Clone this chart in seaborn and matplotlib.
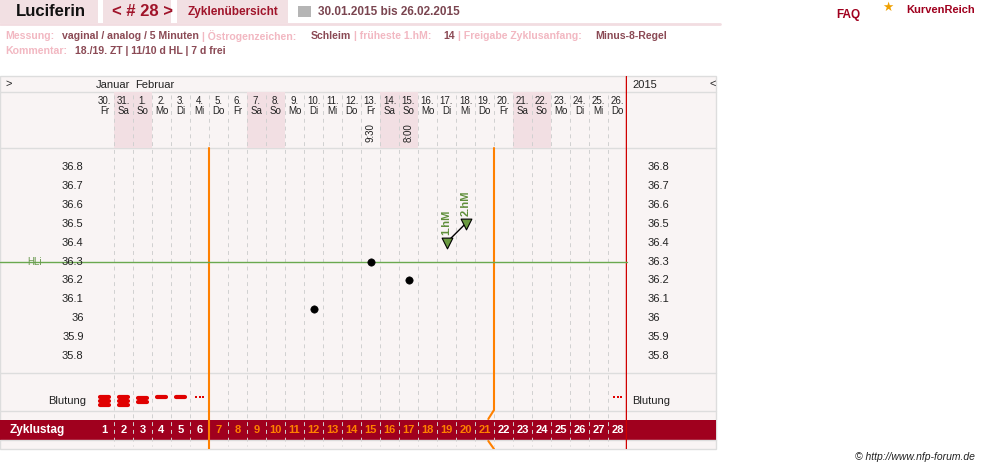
import numpy as np
import pandas as pd
import seaborn as sns
from matplotlib import pyplot as plt
from matplotlib import patches as patches

sns.set_theme(style="white")
plt.rcParams['font.family'] = ['Liberation Sans Narrow', 'Liberation Sans', 'DejaVu Sans']

W, H = 981, 469

# data
dates = ['30.', '31.', '1.', '2.', '3.', '4.', '5.', '6.', '7.', '8.', '9.', '10.', '11.', '12.',
         '13.', '14.', '15.', '16.', '17.', '18.', '19.', '20.', '21.', '22.', '23.', '24.', '25.', '26.']
weekdays = ['Fr', 'Sa', 'So', 'Mo', 'Di', 'Mi', 'Do', 'Fr', 'Sa', 'So', 'Mo', 'Di', 'Mi', 'Do',
            'Fr', 'Sa', 'So', 'Mo', 'Di', 'Mi', 'Do', 'Fr', 'Sa', 'So', 'Mo', 'Di', 'Mi', 'Do']
cycle_days = list(range(1, 29))
temp_days = [12, 15, 17]
temp_vals = [36.05, 36.3, 36.2]
hm_days = [19, 20]
hm_vals = [36.4, 36.5]
hm_labels = ['1.hM', '2.hM']
time_days = [15, 17]
time_labels = ['9:30', '8:00']
bleed_days = [1, 2, 3, 4, 5, 6, 28]
bleed_level = [3, 3, 2, 1, 1, 0, 0]   # 0 = spotting dots
temp_ticks = [36.8, 36.7, 36.6, 36.5, 36.4, 36.3, 36.2, 36.1, 36.0, 35.9, 35.8]
hl_level = 36.3
phase_start, phase_end = 6.5, 21.5

DARK = '#a0001e'
ORANGE = '#ff8000'
PINK = '#f2b8c2'
VAL = '#8b4a55'
BG = '#f9f4f4'


def add_ax(x0, y0, x1, y1):
    return fig.add_axes([x0 / W, 1 - y1 / H, (x1 - x0) / W, (y1 - y0) / H])


fig = plt.figure(figsize=(W / 100, H / 100), dpi=100)
renderer = fig.canvas.get_renderer()

# page layer in pixels
pg = add_ax(0, 0, W, H)
pg.set_xlim(0, W)
pg.set_ylim(H, 0)
pg.axis('off')


def text_row(items, y, x=5, size=7.6):
    # lay texts out one after another
    for t, c, gap in items:
        txt = pg.text(x, y, t, fontsize=size, fontweight='bold', color=c, va='center')
        x += txt.get_window_extent(renderer).width + gap


# header tabs
for x0, x1 in [(0, 98), (103, 171), (177, 288)]:
    pg.add_patch(patches.Rectangle((x0, 0), x1 - x0, 23, color='#f2e0e3', lw=0))
pg.plot([0, 720], [24, 24], color='#f2dde1', lw=2)
pg.text(16, 12, 'Luciferin', fontsize=12, fontweight='bold', color='#111', va='center')
pg.text(112, 12, '< # 28 >', fontsize=12, fontweight='bold', color='#a0142a', va='center')
pg.text(188, 12, 'Zyklenübersicht', fontsize=8.5, fontweight='bold', color='#a0142a', va='center')
pg.add_patch(patches.Rectangle((298, 6), 13, 11, color='#b5b5b5', lw=0))
pg.text(318, 12, '30.01.2015 bis 26.02.2015', fontsize=8.5, fontweight='bold', color='#7a4550', va='center')
pg.text(836, 15, 'FAQ', fontsize=8.5, fontweight='bold', color=DARK, va='center')
pg.text(906, 10, 'KurvenReich', fontsize=8, fontweight='bold', color=DARK, va='center')
pg.text(882, 8, '\u2605', fontsize=9, color='#f0a000', va='center')

text_row([('Messung:', PINK, 8), ('vaginal / analog / 5 Minuten', VAL, 3), ('| Östrogenzeichen:', PINK, 14),
          ('Schleim', VAL, 3), ('| früheste 1.hM:', PINK, 12), ('14', VAL, 3),
          ('| Freigabe Zyklusanfang:', PINK, 14), ('Minus-8-Regel', VAL, 0)], 36)
text_row([('Kommentar:', PINK, 8), ('18./19. ZT | 11/10 d HL | 7 d frei', VAL, 0)], 51)

# chart frame
pg.add_patch(patches.Rectangle((0, 76), 716, 373, facecolor=BG, edgecolor='#dddddd', lw=1))
for y in [92, 148, 373, 411, 440]:
    pg.plot([0, 716], [y, y], color='#dddddd', lw=1)
pg.add_patch(patches.Rectangle((0, 420), 716, 20, color=DARK, lw=0))
pg.text(5, 84, '>', fontsize=8, color='#222', va='center')
pg.text(709, 84, '<', fontsize=8, color='#222', va='center')
pg.text(96, 85, 'Januar', fontsize=8, color='#222', va='center')
pg.text(135, 85, 'Februar', fontsize=8, color='#222', va='center')
pg.text(632, 85, '2015', fontsize=8, color='#222', va='center')
pg.text(86, 401, 'Blutung', fontsize=8, color='#222', va='center', ha='right')
pg.text(632, 401, 'Blutung', fontsize=8, color='#222', va='center')
pg.text(10, 430, 'Zyklustag', fontsize=8.5, fontweight='bold', color='white', va='center')
pg.text(975, 457, '© http://www.nfp-forum.de', fontsize=7.5, style='italic', color='#222',
        va='center', ha='right')

# day columns layer (x in cycle days, y in pixels)
dx = add_ax(95, 76, 627, 449)
dx.set_xlim(0.5, 28.5)
dx.set_ylim(449, 76)
dx.axis('off')
for i, (d, wd) in enumerate(zip(dates, weekdays)):
    day = i + 1
    if wd in ('Sa', 'So'):
        dx.add_patch(patches.Rectangle((day - 0.5, 92), 1, 56, color='#f2dfe3', lw=0))
    dx.text(day, 101, d, fontsize=7, color='#222', ha='center', va='center')
    dx.text(day, 111, wd, fontsize=7, color='#222', ha='center', va='center')
for b in np.arange(1.5, 28.5, 1):
    dx.plot([b, b], [95, 446], color='#d0d0d0', lw=0.7, ls=(0, (4, 4)))
for day, t in zip(time_days, time_labels):
    dx.text(day, 133, t, fontsize=7, color='#222', ha='center', va='center', rotation=90)
for day in cycle_days:
    col = ORANGE if phase_start < day < phase_end else 'white'
    dx.text(day, 430, str(day), fontsize=8, fontweight='bold', color=col, ha='center', va='center')
for day, lv in zip(bleed_days, bleed_level):
    if lv == 0:
        dx.scatter([day - 0.2, day, day + 0.2], [397] * 3, s=3, color='#e00000', marker='s', lw=0)
    else:
        ys = {3: [397, 401, 405], 2: [398, 402], 1: [397]}[lv]
        for y in ys:
            dx.plot([day - 0.22, day + 0.22], [y, y], color='#e00000', lw=3, solid_capstyle='round')
dx.plot([phase_start, phase_start], [148, 449], color=ORANGE, lw=1.5)
dx.plot([phase_end, phase_end, phase_end - 0.3], [148, 410, 419], color=ORANGE, lw=1.5)
dx.plot([phase_end - 0.3, phase_end], [441, 449], color=ORANGE, lw=1.5)
dx.plot([28.5, 28.5], [76, 449], color='#d00000', lw=2.5)

# temperature layer
tx = add_ax(95, 148, 627, 373)
tx.set_xlim(0.5, 28.5)
tx.set_ylim(36.8 - 206 / 189, 36.8 + 19 / 189)
tx.axis('off')
tx.plot([-4.5, 28.5], [hl_level, hl_level], color='#6aa84f', lw=1, clip_on=False)
tx.text(-2.3, hl_level, 'HLi', fontsize=7, color='#6a9a50', va='center', ha='right')
for t in temp_ticks:
    lab = f'{t:g}'
    tx.text(-0.1, t, lab, fontsize=8, color='#222', va='center', ha='right')
    tx.text(29.6, t, lab, fontsize=8, color='#222', va='center', ha='left', clip_on=False)
sns.scatterplot(x=temp_days, y=temp_vals, ax=tx, color='black', s=28, edgecolor='black', zorder=5)
sns.lineplot(x=hm_days, y=hm_vals, ax=tx, color='black', lw=1, zorder=4)
sns.scatterplot(x=hm_days, y=hm_vals, ax=tx, marker='v', color='#6a9a40', s=60,
                edgecolor='black', linewidth=0.8, zorder=6)
for d, v, lab in zip(hm_days, hm_vals, hm_labels):
    tx.text(d, v + 0.04, lab, fontsize=8, fontweight='bold', color='#5f8f3a',
            rotation=90, ha='center', va='bottom')

fig.savefig('out.png', dpi=100)
